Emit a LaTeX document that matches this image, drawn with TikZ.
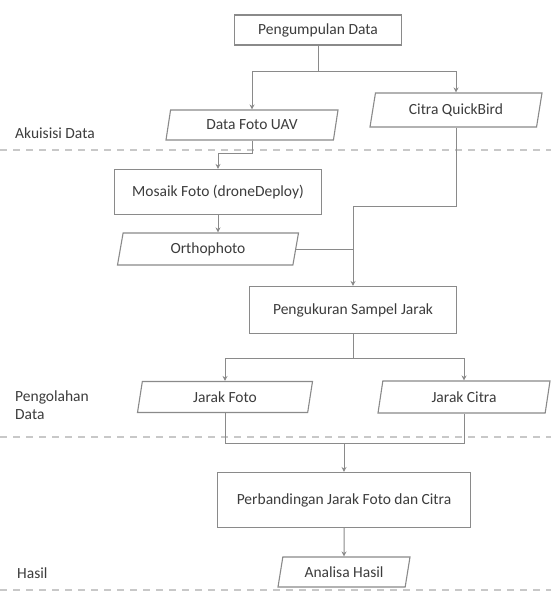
\documentclass[tikz,border=0pt]{standalone}
\usepackage{fontspec}
\setmainfont{Carlito}
\usetikzlibrary{shapes.geometric,arrows.meta,calc}
\definecolor{lineg}{HTML}{8A8A8A}
\definecolor{txtg}{HTML}{3C3C3C}
\definecolor{dashg}{HTML}{C8C8C8}
\tikzset{
  base/.style={draw=lineg, line width=1.1pt, fill=white, text=txtg, font=\fontsize{15.5}{18}\selectfont, inner sep=2pt},
  procbox/.style={base, rectangle},
  iobox/.style={base, trapezium, trapezium left angle=72, trapezium right angle=108, trapezium stretches body=true},
  conn/.style={draw=lineg, line width=1pt},
  arr/.style={conn, -{Stealth[length=5pt,width=5pt]}},
  sep/.style={draw=dashg, line width=1.1pt, dash pattern=on 7pt off 6pt},
  lbl/.style={text=txtg, font=\fontsize{15.5}{18}\selectfont, anchor=west, align=left, inner sep=0pt}
}
\begin{document}
\begin{tikzpicture}[x=1pt,y=-1pt]
\useasboundingbox[fill=white] (0,0) rectangle (551,599);
% separators
\draw[sep] (0,150) -- (551,150);
\draw[sep] (0,437) -- (551,437);
\draw[sep] (0,590) -- (551,590);
% lane labels
\node[lbl] (l1) at (15,133) {Akuisisi Data};
\node[lbl] (l2) at (15,405) {Pengolahan\\Data};
\node[lbl] (l3) at (17,573) {Hasil};
% nodes
\node[procbox, minimum width=167pt, minimum height=30pt] (pd) at (318,30) {Pengumpulan Data};
\node[iobox, minimum width=172pt, minimum height=30pt] (uav) at (252,125) {Data Foto UAV};
\node[iobox, minimum width=172pt, minimum height=34pt] (qb) at (456,110) {Citra QuickBird};
\node[procbox, minimum width=207pt, minimum height=45pt] (mos) at (218,192) {Mosaik Foto (droneDeploy)};
\node[iobox, minimum width=181pt, minimum height=32pt] (orth) at (208,249) {Orthophoto};
\node[procbox, minimum width=207pt, minimum height=47pt] (pk) at (353,310) {Pengukuran Sampel Jarak};
\node[iobox, minimum width=175pt, minimum height=31pt] (jf) at (225,397) {Jarak Foto};
\node[iobox, minimum width=172pt, minimum height=32pt] (jc) at (464,397) {Jarak Citra};
\node[procbox, minimum width=253pt, minimum height=55pt] (pb) at (344,500) {Perbandingan Jarak Foto dan Citra};
\node[iobox, minimum width=132pt, minimum height=30pt] (ah) at (344,572) {Analisa Hasil};
% junctions
\coordinate (j1) at (318,72);
\coordinate (j2) at (353,206);
\coordinate (j3) at (353,358);
\coordinate (j4) at (344,443);
% connectors
\draw[conn] (pd.south) -- (j1);
\draw[arr] (j1) -| (uav.north);
\draw[arr] (j1) -| (qb.north);
\draw[arr] (uav.south) -- ++(0,13) -| (mos.north);
\draw[arr] (mos.south) -- (mos.south |- orth.north);
\draw[conn] (qb.south) |- (j2);
\draw[conn] (orth.east) -- (orth.east -| j2);
\draw[arr] (j2) -- (pk.north);
\draw[conn] (pk.south) -- (j3);
\draw[arr] (j3) -| (jf.north);
\draw[arr] (j3) -| (jc.north);
\draw[conn] (jf.south) |- (j4);
\draw[conn] (j4) -| (jc.south);
\draw[arr] (j4) -- (pb.north);
\draw[arr] (pb.south) -- (ah.north);
\end{tikzpicture}
\end{document}
